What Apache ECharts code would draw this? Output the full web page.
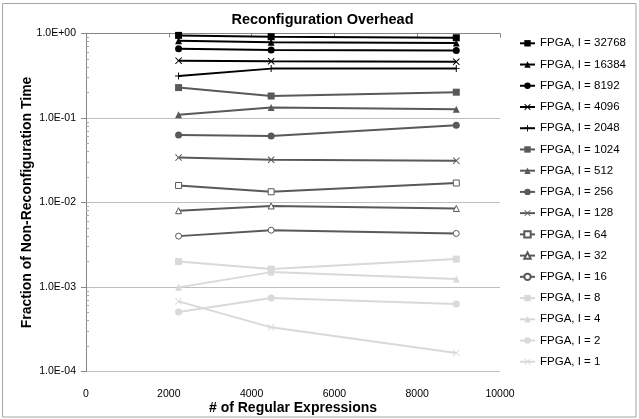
<!DOCTYPE html>
<html>
<head>
<meta charset="utf-8">
<script src="https://cdn.jsdelivr.net/npm/echarts@6/dist/echarts.min.js"></script>
<style>
html,body{margin:0;padding:0;background:#fff;}
#chart{width:639px;height:419px;}
</style>
</head>
<body>
<div id="chart"></div>
<script>
// ---- data ----
var regexCounts = [2236, 4472, 8944];
var seriesLabels = ['FPGA, I = 32768','FPGA, I = 16384','FPGA, I = 8192','FPGA, I = 4096',
  'FPGA, I = 2048','FPGA, I = 1024','FPGA, I = 512','FPGA, I = 256','FPGA, I = 128',
  'FPGA, I = 64','FPGA, I = 32','FPGA, I = 16','FPGA, I = 8','FPGA, I = 4','FPGA, I = 2','FPGA, I = 1'];
var i32768 = [0.95, 0.915, 0.89];
var i16384 = [0.82, 0.79, 0.77];
var i8192  = [0.66, 0.64, 0.63];
var i4096  = [0.477, 0.469, 0.464];
var i2048  = [0.315, 0.384, 0.384];
var i1024  = [0.229, 0.182, 0.202];
var i512   = [0.109, 0.133, 0.127];
var i256   = [0.0631, 0.0614, 0.0822];
var i128   = [0.0340, 0.0320, 0.0313];
var i64    = [0.0159, 0.0134, 0.0170];
var i32    = [0.0080, 0.0091, 0.0085];
var i16    = [0.0040, 0.0047, 0.0043];
var i8     = [0.0020, 0.00163, 0.00214];
var i4     = [0.00099, 0.0015, 0.00124];
var i2     = [0.000506, 0.000741, 0.00063];
var i1     = [0.000676, 0.000333, 0.000166];
var yMinorTickValues = [2e-4,3e-4,4e-4,5e-4,6e-4,7e-4,8e-4,9e-4,
  2e-3,3e-3,4e-3,5e-3,6e-3,7e-3,8e-3,9e-3,
  2e-2,3e-2,4e-2,5e-2,6e-2,7e-2,8e-2,9e-2,
  0.2,0.3,0.4,0.5,0.6,0.7,0.8,0.9];
var chartTitle = 'Reconfiguration Overhead';
var xTitle = '# of Regular Expressions';
var yTitle = 'Fraction of Non-Reconfiguration Time';

var allValues = [i32768,i16384,i8192,i4096,i2048,i1024,i512,i256,i128,i64,i32,i16,i8,i4,i2,i1];

// ---- styles ----
var BLACK = '#000000', DARK = '#595959', LIGHT = '#d9d9d9';
var X_SYM = 'path://M0,1L1,0L5,4L9,0L10,1L6,5L10,9L9,10L5,6L1,10L0,9L4,5Z';
var PLUS_SYM = 'path://M4.3,0H5.7V4.3H10V5.7H5.7V10H4.3V5.7H0V4.3H4.3Z';
// [colour, symbol, hollow]
var styles = [
  [BLACK,'rect',0],[BLACK,'triangle',0],[BLACK,'circle',0],[BLACK,X_SYM,0],[BLACK,PLUS_SYM,0],
  [DARK,'rect',0],[DARK,'triangle',0],[DARK,'circle',0],[DARK,X_SYM,0],
  [DARK,'rect',1],[DARK,'triangle',1],[DARK,'circle',1],
  [LIGHT,'rect',0],[LIGHT,'triangle',0],[LIGHT,'circle',0],[LIGHT,X_SYM,0]
];

function fmtExp(v){
  var e = Math.round(Math.log10(v));
  var s = e < 0 ? '-' : '+';
  var a = Math.abs(e);
  return '1.0E' + s + (a < 10 ? '0' + a : '' + a);
}

var series = seriesLabels.map(function(name, k){
  var col = styles[k][0], sym = styles[k][1], hollow = styles[k][2];
  return {
    name: name,
    type: 'line',
    data: regexCounts.map(function(x, j){ return [x, allValues[k][j]]; }),
    symbol: sym,
    symbolSize: hollow ? 6 : 7,
    showAllSymbol: true,
    lineStyle: { color: col, width: 2 },
    itemStyle: hollow ? { color: '#ffffff', borderColor: col, borderWidth: 1 }
                      : { color: col, borderWidth: 0 },
    emphasis: { disabled: true },
    animation: false,
    z: 2
  };
});

var chart = echarts.init(document.getElementById('chart'), null, {renderer: 'canvas'});
chart.setOption({
  animation: false,
  backgroundColor: '#ffffff',
  textStyle: { fontFamily: 'Liberation Sans' },
  grid: { left: 86, right: 139, top: 33.5, bottom: 47.5 },
  graphic: [
    { type: 'rect', shape: { x: 2.5, y: 3.5, width: 633.5, height: 413.5 },
      style: { fill: 'none', stroke: '#a6a6a6', lineWidth: 1 }, z: -10 },
    { type: 'text', x: 322.5, y: 20, style: { text: chartTitle,
      font: 'bold 14.5px "Liberation Sans"', fill: '#000', textAlign: 'center', textVerticalAlign: 'middle' } },
    { type: 'text', x: 293, y: 408, style: { text: xTitle,
      font: 'bold 14px "Liberation Sans"', fill: '#000', textAlign: 'center', textVerticalAlign: 'middle' } },
    { type: 'text', x: 27, y: 202.5, rotation: Math.PI / 2, style: { text: yTitle,
      font: 'bold 14px "Liberation Sans"', fill: '#000', textAlign: 'center', textVerticalAlign: 'middle' } }
  ],
  xAxis: {
    type: 'value', min: 0, max: 10000, interval: 2000,
    axisLine: { show: true, lineStyle: { color: '#868686', width: 1 } },
    axisTick: { show: true, length: 4, lineStyle: { color: '#868686' } },
    axisLabel: { fontSize: 10.5, color: '#000', margin: 17, fontFamily: 'Liberation Sans',
      formatter: function(v){ return String(v); } },
    splitLine: { show: false }
  },
  yAxis: [{
    type: 'log', logBase: 10, min: 0.0001, max: 1, interval: 1,
    axisLine: { show: true, lineStyle: { color: '#868686', width: 1 } },
    axisTick: { show: true, length: 5, lineStyle: { color: '#868686' } },
    axisLabel: { fontSize: 10.5, color: '#000', margin: 10, fontFamily: 'Liberation Sans',
      formatter: function(v){ return fmtExp(v); } },
    splitLine: { show: true, lineStyle: { color: '#bfbfbf', width: 1 } }
  }, {
    // minor log ticks, drawn on a linear axis in log10 space (same extent as the log axis)
    type: 'value', min: -4, max: 0, position: 'left',
    axisLine: { show: false },
    axisLabel: { show: false },
    splitLine: { show: false },
    axisTick: { show: true, inside: true, length: 3,
      customValues: yMinorTickValues.map(function(v){ return Math.log10(v); }),
      lineStyle: { color: '#a6a6a6' } }
  }],
  legend: {
    orient: 'vertical', left: 519, top: 36.3, padding: 0,
    itemWidth: 15, itemHeight: 8, itemGap: 7.23,
    textStyle: { fontSize: 11.5, color: '#000', lineHeight: 14, fontFamily: 'Liberation Sans' },
    data: seriesLabels,
    selectedMode: false
  },
  series: series
});
</script>
</body>
</html>
